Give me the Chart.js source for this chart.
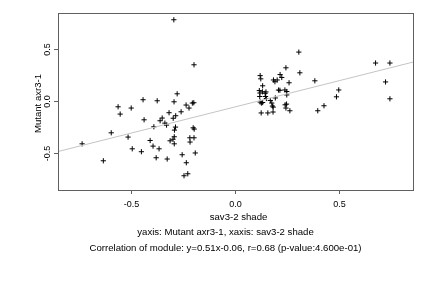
<!DOCTYPE html>
<html>
<head>
<meta charset="utf-8">
<script src="https://cdn.jsdelivr.net/npm/chart.js@4/dist/chart.umd.min.js"></script>
<style>
  html, body { margin: 0; padding: 0; background: #fff; }
  canvas { display: block; }
</style>
</head>
<body>
<canvas id="corrChart" width="432" height="288"></canvas>
<script>
// module values (x = sav3-2 shade, y = Mutant axr3-1)
const leftX = [-0.294, -0.197, -0.278, -0.562, -0.442, -0.374, -0.293, -0.499, -0.552, -0.235,
  -0.205, -0.198, -0.221, -0.317, -0.259, -0.350, -0.285, -0.297, -0.360, -0.437,
  -0.337, -0.329, -0.390, -0.286, -0.201, -0.196, -0.291, -0.595, -0.514, -0.292,
  -0.217, -0.197, -0.408, -0.312, -0.298, -0.216, -0.292, -0.735, -0.394, -0.365,
  -0.494, -0.450, -0.191, -0.254, -0.379, -0.326, -0.633, -0.234, -0.227, -0.245];
const leftY = [0.781, 0.348, 0.069, -0.056, 0.012, 0.002, -0.008, -0.068, -0.126, -0.039,
  -0.020, -0.017, -0.068, -0.113, -0.104, -0.164, -0.142, -0.166, -0.190, -0.181,
  -0.213, -0.232, -0.248, -0.251, -0.258, -0.270, -0.280, -0.306, -0.347, -0.344,
  -0.354, -0.354, -0.380, -0.383, -0.368, -0.395, -0.412, -0.412, -0.434, -0.460,
  -0.460, -0.488, -0.500, -0.517, -0.546, -0.558, -0.575, -0.594, -0.700, -0.719];
const rightX = [0.307, 0.676, 0.745, 0.245, 0.312, 0.121, 0.124, 0.217, 0.225, 0.185,
  0.192, 0.203, 0.260, 0.384, 0.724, 0.133, 0.499, 0.488, 0.745, 0.428,
  0.398, 0.117, 0.132, 0.149, 0.120, 0.145, 0.209, 0.216, 0.240, 0.249,
  0.249, 0.119, 0.147, 0.151, 0.194, 0.170, 0.121, 0.127, 0.133, 0.177,
  0.180, 0.184, 0.241, 0.248, 0.245, 0.264, 0.126, 0.158, 0.183];
const rightY = [0.470, 0.365, 0.365, 0.319, 0.271, 0.244, 0.213, 0.254, 0.226, 0.202,
  0.185, 0.202, 0.175, 0.194, 0.183, 0.146, 0.106, 0.040, 0.021, -0.046,
  -0.094, 0.100, 0.088, 0.087, 0.076, 0.074, 0.105, 0.103, 0.106, 0.091,
  0.058, 0.043, 0.043, 0.024, 0.029, 0.005, -0.010, -0.020, -0.015, -0.020,
  -0.049, -0.059, -0.037, -0.030, -0.068, -0.094, -0.115, -0.115, -0.106];

// fitted line end points, as drawn across the plot
const fitX = [-0.851, 0.856];
const fitY = [-0.486, 0.374];

const xTicks = [-0.5, 0, 0.5];
const xTickLabels = ['-0.5', '0.0', '0.5'];
const yTicks = [-0.5, 0, 0.5];
const yTickLabels = ['-0.5', '0.0', '0.5'];

const xTitle = 'sav3-2 shade';
const yTitle = 'Mutant axr3-1';
const subLine1 = 'yaxis: Mutant axr3-1, xaxis: sav3-2 shade';
const subLine2 = 'Correlation of module: y=0.51x-0.06, r=0.68 (p-value:4.600e-01)';

const TICK_FONT = '9px "Liberation Sans", Arial, Helvetica, sans-serif';
const TEXT_FONT = '9.6px "Liberation Sans", Arial, Helvetica, sans-serif';

function pairs(xs, ys) {
  return xs.map((x, i) => ({ x: x, y: ys[i] }));
}

// R-style box, outward ticks and labels
const rAxes = {
  id: 'rAxes',
  beforeDraw(chart) {
    const c = chart.ctx;
    c.save();
    c.fillStyle = '#fff';
    c.fillRect(0, 0, chart.width, chart.height);
    c.restore();
  },
  afterDraw(chart) {
    const c = chart.ctx;
    const a = chart.chartArea;
    const sx = chart.scales.x;
    const sy = chart.scales.y;
    c.save();
    c.strokeStyle = '#606060';
    c.lineWidth = 1;
    c.strokeRect(a.left + 0.5, a.top + 0.5, a.right - a.left, a.bottom - a.top);

    c.fillStyle = '#000';
    c.font = TICK_FONT;
    c.textAlign = 'center';
    c.textBaseline = 'middle';
    // x ticks
    xTicks.forEach((v, i) => {
      const px = Math.round(sx.getPixelForValue(v)) + 0.5;
      c.beginPath();
      c.moveTo(px, a.bottom);
      c.lineTo(px, a.bottom + 4);
      c.stroke();
      c.fillText(xTickLabels[i], px, a.bottom + 15);
    });
    // y ticks (rotated labels)
    yTicks.forEach((v, i) => {
      const py = Math.round(sy.getPixelForValue(v)) + 0.5;
      c.beginPath();
      c.moveTo(a.left, py);
      c.lineTo(a.left - 4, py);
      c.stroke();
      c.save();
      c.translate(a.left - 10, py);
      c.rotate(-Math.PI / 2);
      c.fillText(yTickLabels[i], 0, 0);
      c.restore();
    });
    // titles
    c.font = TEXT_FONT;
    c.fillText(xTitle, (a.left + a.right) / 2 + 3, a.bottom + 27.5);
    c.save();
    c.translate(a.left - 20, (a.top + a.bottom) / 2 + 2);
    c.rotate(-Math.PI / 2);
    c.fillText(yTitle, 0, 0);
    c.restore();
    c.fillText(subLine1, 225.5, a.bottom + 42);
    c.fillText(subLine2, 225.5, a.bottom + 58.5);
    c.restore();
  }
};

const ctx = document.getElementById('corrChart').getContext('2d');
new Chart(ctx, {
  type: 'scatter',
  data: {
    datasets: [{
      label: 'fit',
      type: 'line',
      data: pairs(fitX, fitY),
      borderColor: '#c4c4c4',
      borderWidth: 1,
      pointRadius: 0,
      fill: false
    }, {
      label: 'modules',
      data: pairs(leftX.concat(rightX), leftY.concat(rightY)),
      pointStyle: 'cross',
      pointRadius: 2.6,
      borderColor: '#000',
      backgroundColor: '#000',
      borderWidth: 1
    }]
  },
  options: {
    responsive: false,
    animation: false,
    devicePixelRatio: 1,
    layout: { padding: { left: 58, right: 19, top: 13, bottom: 98 } },
    plugins: { legend: { display: false }, tooltip: { enabled: false } },
    scales: {
      x: { type: 'linear', display: false, min: -0.851, max: 0.856 },
      y: { type: 'linear', display: false, min: -0.856, max: 0.846 }
    }
  },
  plugins: [rAxes]
});
</script>
</body>
</html>
